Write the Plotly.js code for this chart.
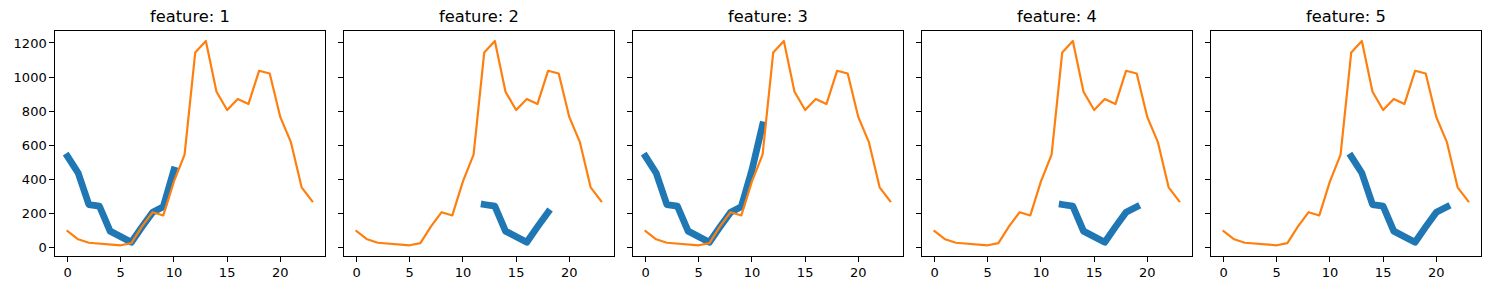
<!DOCTYPE html>
<html>
<head>
<meta charset="utf-8">
<script src="https://cdn.plot.ly/plotly-3.0.1.min.js"></script>
<style>
html,body{margin:0;padding:0;background:#fff;}
#chart{width:1489px;height:290px;}
.scatterlayer .js-line{stroke-linecap:square !important;stroke-linejoin:round !important;}
</style>
</head>
<body>
<div id="chart"></div>
<script>
// ---- data ----
const hours = [0,1,2,3,4,5,6,7,8,9,10,11,12,13,14,15,16,17,18,19,20,21,22,23];
const actual = [97,49,29,25,19,14,27,125,208,189,389,545,1144,1212,914,807,872,842,1037,1021,765,617,354,272];

const titles = ["feature: 1","feature: 2","feature: 3","feature: 4","feature: 5"];

const f1X = [0,1,2,3,4,5,6,7,8,9,10];
const f1Y = [535,438,253,243,97,68,32,122,208,240,455];
const f2X = [12,13,14,15,16,17,18];
const f2Y = [253,243,97,68,32,122,208];
const f3X = [0,1,2,3,4,5,6,7,8,9,10,11];
const f3Y = [535,438,253,243,97,68,32,122,208,240,455,720];
const f4X = [12,13,14,15,16,17,18,19];
const f4Y = [253,243,97,68,32,122,208,240];
const f5X = [12,13,14,15,16,17,18,19,20,21];
const f5Y = [535,438,253,243,97,68,32,122,208,240];

const blueX = [f1X,f2X,f3X,f4X,f5X];
const blueY = [f1Y,f2Y,f3Y,f4Y,f5Y];

const xTicks = [0,5,10,15,20];
const yTicks = [0,200,400,600,800,1000,1200];

// ---- layout ----
const W = 1489, H = 290;
const axLeft0 = 55.3, axW = 269.2, axStep = 289;
const axTop = 30.7, axBottom = 255.7;
const yDom = [(H-axBottom)/H, (H-axTop)/H];

const traces = [];
const layout = {
  width: W, height: H,
  margin: {l:0,r:0,t:0,b:0,pad:0},
  paper_bgcolor: '#fff', plot_bgcolor: '#fff',
  showlegend: false,
  font: {family: 'DejaVu Sans', size: 13, color: '#000'},
  annotations: []
};

for (let i = 0; i < 5; i++) {
  const sfx = i === 0 ? '' : String(i+1);
  const xa = 'x' + sfx, ya = 'y' + sfx;
  traces.push({
    x: blueX[i], y: blueY[i], xaxis: xa, yaxis: ya,
    type: 'scatter', mode: 'lines',
    line: {color: '#1f77b4', width: 6.8}, hoverinfo: 'skip'
  });
  traces.push({
    x: hours, y: actual, xaxis: xa, yaxis: ya,
    type: 'scatter', mode: 'lines',
    line: {color: '#ff7f0e', width: 2.2}, hoverinfo: 'skip'
  });
  const l = axLeft0 + i*axStep;
  const xd = [l/W, (l+axW)/W];
  layout['xaxis' + sfx] = {
    domain: xd, anchor: ya, range: [-1.15, 24.15],
    tickmode: 'array', tickvals: xTicks, ticktext: xTicks.map(String),
    ticks: 'outside', ticklen: 5, tickwidth: 1, tickcolor: '#000',
    showline: true, mirror: true, linecolor: '#000', linewidth: 1,
    showgrid: false, zeroline: false,
    tickfont: {family: 'DejaVu Sans', size: 13, color: '#000'}
  };
  layout['yaxis' + sfx] = {
    domain: yDom, anchor: xa, range: [-47, 1272],
    tickmode: 'array', tickvals: yTicks, ticktext: yTicks.map(String),
    showticklabels: i === 0,
    ticks: 'outside', ticklen: 5, tickwidth: 1, tickcolor: '#000',
    showline: true, mirror: true, linecolor: '#000', linewidth: 1,
    showgrid: false, zeroline: false,
    tickfont: {family: 'DejaVu Sans', size: 13, color: '#000'}
  };
  layout.annotations.push({
    text: titles[i], xref: 'paper', yref: 'paper',
    x: (xd[0]+xd[1])/2, y: yDom[1], xanchor: 'center', yanchor: 'bottom',
    yshift: 3, showarrow: false,
    font: {family: 'DejaVu Sans', size: 16.3, color: '#000'}
  });
}

Plotly.newPlot('chart', traces, layout, {staticPlot: true, displayModeBar: false});
</script>
</body>
</html>
